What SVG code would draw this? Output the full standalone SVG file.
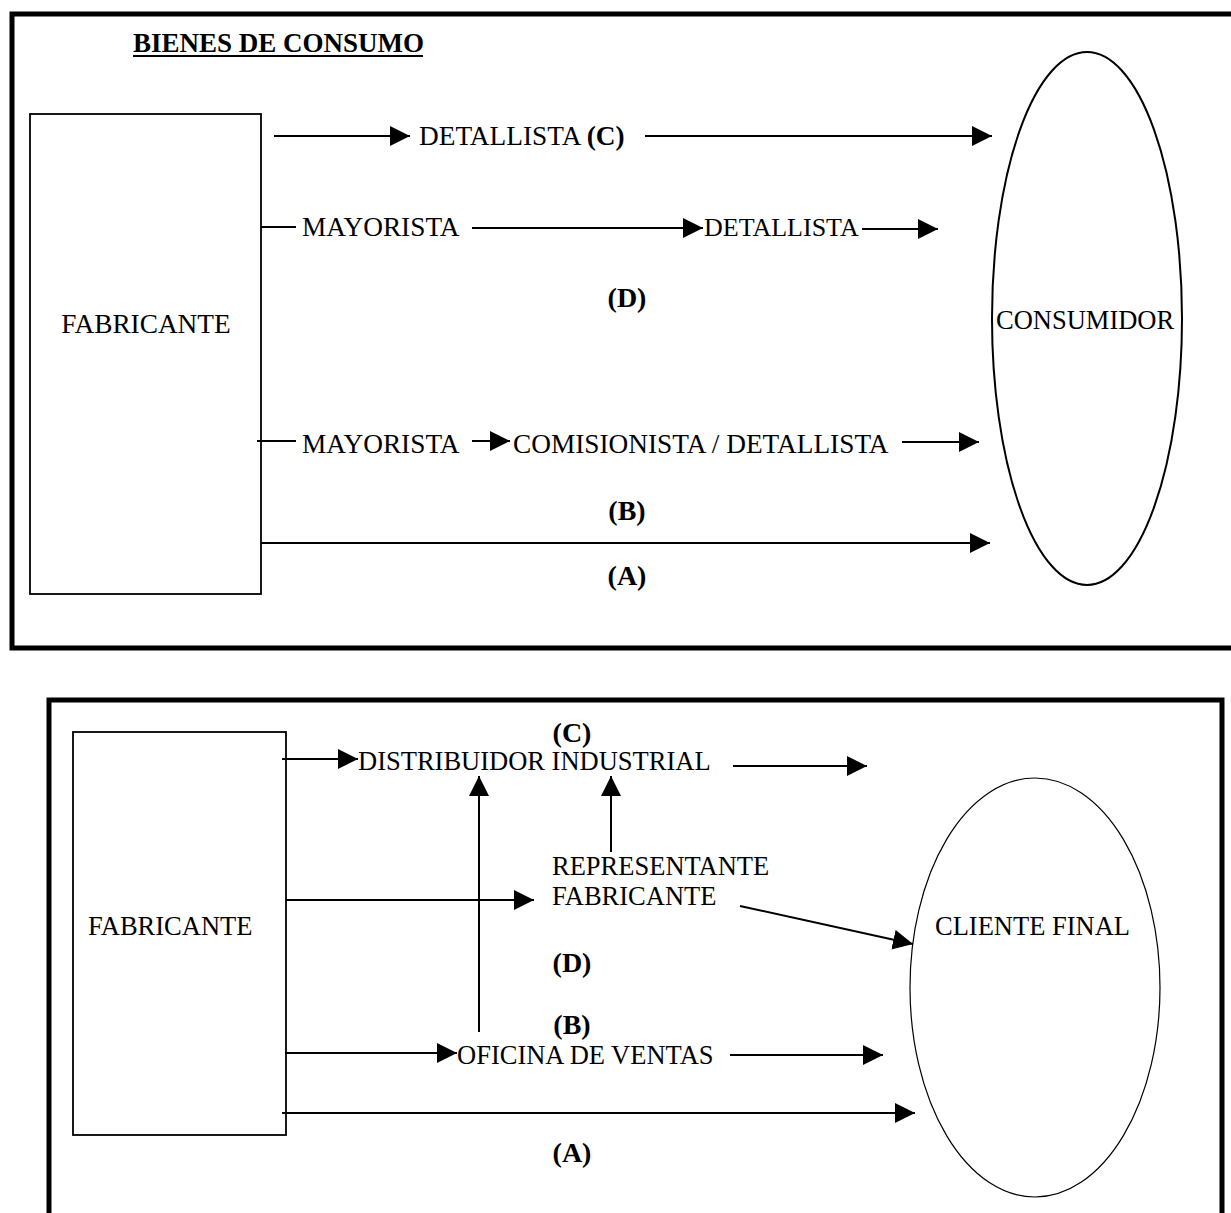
<svg xmlns="http://www.w3.org/2000/svg" width="1231" height="1213" viewBox="0 0 1231 1213">
  <defs>
    <marker id="head" markerUnits="userSpaceOnUse" markerWidth="20" markerHeight="20" refX="20" refY="10" orient="auto">
      <path d="M0,0 L20,10 L0,20 Z" fill="#000"/>
    </marker>
    <style>
      text { font-family: "Liberation Serif", "Times New Roman", serif; font-size: 26.5px; fill: #000; }
      .t { font-size: 27.3px; }
      .b { font-weight: bold; font-size: 28px; }
      .frame { fill: none; stroke: #000; stroke-width: 5; }
      .box { fill: #fff; stroke: #000; stroke-width: 1.8; }
      .conn line { stroke: #000; stroke-width: 2; }
      .arr { marker-end: url(#head); }
    </style>
  </defs>
  <rect width="1231" height="1213" fill="#fff"/>

  <!-- consumer goods channels -->
  <g id="panel-consumo">
    <rect class="frame" x="12" y="14" width="1240" height="634"/>
    <text id="titulo" x="133" y="52" style="font-weight:bold;font-size:27px">BIENES DE CONSUMO</text>
    <line x1="133" y1="56" x2="423" y2="56" stroke="#000" stroke-width="2"/>

    <g id="fabricante-1">
      <rect class="box" x="30" y="114" width="231" height="480"/>
      <text class="t" x="146" y="333" text-anchor="middle">FABRICANTE</text>
    </g>
    <g id="consumidor">
      <ellipse cx="1087" cy="318.5" rx="95" ry="266.5" fill="none" stroke="#000" stroke-width="2"/>
      <text x="996" y="329">CONSUMIDOR</text>
    </g>

    <g id="etiquetas-1">
      <text class="t" x="419" y="145">DETALLISTA <tspan style="font-weight:bold">(C)</tspan></text>
      <text class="t" x="302" y="236">MAYORISTA</text>
      <text x="704" y="236" style="font-size:26px">DETALLISTA</text>
      <text class="b" x="627" y="307" text-anchor="middle">(D)</text>
      <text class="t" x="302" y="453">MAYORISTA</text>
      <text class="t" x="513" y="453">COMISIONISTA / DETALLISTA</text>
      <text class="b" x="627" y="520" text-anchor="middle">(B)</text>
      <text class="b" x="627" y="585" text-anchor="middle">(A)</text>
    </g>

    <g id="conectores-1" class="conn">
      <line class="arr" x1="274" y1="136" x2="410" y2="136"/>
      <line class="arr" x1="645" y1="136" x2="992" y2="136"/>
      <line x1="261" y1="227" x2="296" y2="227"/>
      <line class="arr" x1="472" y1="228" x2="703" y2="228"/>
      <line class="arr" x1="862" y1="229" x2="938" y2="229"/>
      <line x1="257" y1="441" x2="296" y2="441"/>
      <line class="arr" x1="472" y1="441" x2="510" y2="441"/>
      <line class="arr" x1="902" y1="442" x2="979" y2="442"/>
      <line class="arr" x1="261" y1="543" x2="990" y2="543"/>
    </g>
  </g>

  <!-- industrial goods channels -->
  <g id="panel-industrial">
    <rect class="frame" x="49" y="700" width="1173" height="540"/>

    <g id="fabricante-2">
      <rect class="box" x="73" y="732" width="213" height="403"/>
      <text x="88" y="935">FABRICANTE</text>
    </g>
    <g id="cliente-final">
      <ellipse cx="1035" cy="987.5" rx="125" ry="209.5" fill="none" stroke="#000" stroke-width="1.2"/>
      <text x="935" y="935">CLIENTE FINAL</text>
    </g>

    <g id="etiquetas-2">
      <text class="b" x="572" y="742" text-anchor="middle">(C)</text>
      <text x="358" y="770">DISTRIBUIDOR INDUSTRIAL</text>
      <text x="552" y="875">REPRESENTANTE</text>
      <text x="552" y="905">FABRICANTE</text>
      <text class="b" x="572" y="972" text-anchor="middle">(D)</text>
      <text class="b" x="572" y="1034" text-anchor="middle">(B)</text>
      <text x="457" y="1064">OFICINA DE VENTAS</text>
      <text class="b" x="572" y="1162" text-anchor="middle">(A)</text>
    </g>

    <g id="conectores-2" class="conn">
      <line class="arr" x1="282" y1="759" x2="358" y2="759"/>
      <line class="arr" x1="733" y1="766" x2="867" y2="766"/>
      <line class="arr" x1="479" y1="1032" x2="479" y2="776"/>
      <line class="arr" x1="611" y1="852" x2="611" y2="776"/>
      <line class="arr" x1="286" y1="900" x2="534" y2="900"/>
      <line class="arr" x1="740" y1="906" x2="913" y2="944"/>
      <line class="arr" x1="285" y1="1053" x2="457" y2="1053"/>
      <line class="arr" x1="730" y1="1055" x2="883" y2="1055"/>
      <line class="arr" x1="282" y1="1113" x2="915" y2="1113"/>
    </g>
  </g>
</svg>
